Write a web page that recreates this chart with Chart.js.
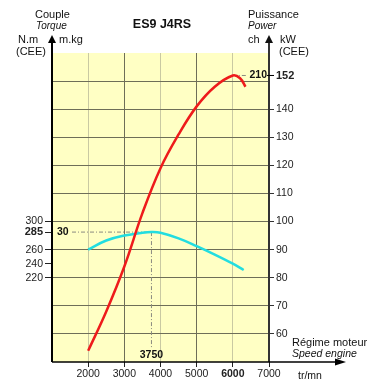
<!DOCTYPE html>
<html>
<head>
<meta charset="utf-8">
<script src="https://cdn.jsdelivr.net/npm/chart.js@4"></script>
<style>
  html, body { margin: 0; padding: 0; background: #fff; }
</style>
</head>
<body>
<canvas id="engineChart" width="380" height="380"></canvas>
<script>
// engine speed (tr/mn) and the two curves
const rpmPower = [2000, 2500, 3000, 3500, 4000, 4500, 5000, 5500, 6000, 6200, 6350];
const powerKw  = [54, 68, 84, 103, 119, 131, 141, 148, 152, 151, 148];
const rpmTorque = [2000, 2500, 3000, 3500, 3750, 4000, 4500, 5000, 5500, 6000, 6300];
const torqueNm  = [260, 273, 280, 284, 285, 284, 276, 265, 253, 240, 231];

const rpmTicks = [2000, 3000, 4000, 5000, 6000, 7000];
const kwTicks  = [60, 70, 80, 90, 100, 110, 120, 130, 140, 150, 152];
const nmTicks  = [220, 240, 260, 285, 300];

const FONT = "'Liberation Sans', Arial, sans-serif";
const YELLOW = "#ffffc4";
const GRID_DARK = "#6e6e58";
const GRID_LIGHT = "#c9c9a2";

/* ---------- decorations (background, axes, labels) ---------- */
const sheetPlugin = {
  id: "sheet",
  beforeDraw(chart) {
    const { ctx, chartArea: a } = chart;
    ctx.save();
    ctx.fillStyle = YELLOW;
    ctx.fillRect(a.left, a.top, a.right - a.left, a.bottom - a.top);
    ctx.restore();
  },
  beforeDatasetsDraw(chart) {
    const { ctx, chartArea: a, scales } = chart;
    const x = scales.x, yR = scales.yR, yL = scales.yL;
    ctx.save();
    ctx.strokeStyle = "#8a8a80";
    ctx.lineWidth = 1;
    ctx.setLineDash([4, 2, 1, 2]);
    // max torque guides
    const ty = yL.getPixelForValue(285);
    const tx = x.getPixelForValue(3750);
    ctx.beginPath();
    ctx.moveTo(a.left + 20, ty);
    ctx.lineTo(tx, ty);
    ctx.moveTo(tx, ty);
    ctx.lineTo(tx, a.bottom - 14);
    // max power guide
    const py = yR.getPixelForValue(152);
    ctx.moveTo(x.getPixelForValue(6000), py);
    ctx.lineTo(a.right - 23, py);
    ctx.stroke();
    ctx.restore();
  },
  afterDraw(chart) {
    const { ctx, chartArea: a, scales } = chart;
    const x = scales.x, yR = scales.yR, yL = scales.yL;
    ctx.save();

    // axes with arrows
    function arrowUp(px, top) {
      ctx.beginPath();
      ctx.moveTo(px, top);
      ctx.lineTo(px - 4, top + 8);
      ctx.lineTo(px + 4, top + 8);
      ctx.closePath();
      ctx.fill();
    }
    ctx.fillStyle = "#000";
    ctx.strokeStyle = "#000";
    ctx.lineWidth = 2;
    ctx.beginPath();
    ctx.moveTo(a.left, a.bottom);
    ctx.lineTo(a.left, 40);
    ctx.stroke();
    arrowUp(a.left, 35);
    ctx.strokeStyle = "#333";
    ctx.beginPath();
    ctx.moveTo(a.right, a.bottom);
    ctx.lineTo(a.right, 40);
    ctx.stroke();
    ctx.fillStyle = "#111";
    arrowUp(a.right, 35);
    ctx.strokeStyle = "#000";
    ctx.fillStyle = "#000";
    ctx.lineWidth = 1.5;
    ctx.beginPath();
    ctx.moveTo(a.left, a.bottom);
    ctx.lineTo(338, a.bottom);
    ctx.stroke();
    ctx.beginPath();
    ctx.moveTo(346, a.bottom);
    ctx.lineTo(335, a.bottom - 3.5);
    ctx.lineTo(335, a.bottom + 3.5);
    ctx.closePath();
    ctx.fill();

    // small cross tick at 152 kW
    ctx.lineWidth = 1;
    ctx.beginPath();
    ctx.moveTo(a.right - 2, yR.getPixelForValue(152));
    ctx.lineTo(a.right + 5, yR.getPixelForValue(152));
    ctx.stroke();

    // header texts
    ctx.fillStyle = "#111";
    ctx.textBaseline = "middle";
    ctx.textAlign = "left";
    ctx.font = "11px " + FONT;
    ctx.fillText("Couple", 35, 15);
    ctx.fillText("N.m", 18, 40);
    ctx.fillText("m.kg", 59, 40);
    ctx.fillText("(CEE)", 16, 52);
    ctx.fillText("Puissance", 248, 15);
    ctx.fillText("ch", 248, 40);
    ctx.fillText("kW", 280, 40);
    ctx.fillText("(CEE)", 279, 52);
    ctx.font = "italic 10px " + FONT;
    ctx.fillText("Torque", 36, 26);
    ctx.fillText("Power", 248, 26);

    ctx.font = "bold 12.5px " + FONT;
    ctx.textAlign = "center";
    ctx.fillText("ES9 J4RS", 162, 25);

    // speed axis name
    ctx.textAlign = "left";
    ctx.font = "11px " + FONT;
    ctx.fillText("Régime moteur", 292, a.bottom - 19);
    ctx.font = "italic 10.5px " + FONT;
    ctx.fillText("Speed engine", 292, a.bottom - 8);
    ctx.font = "10.5px " + FONT;
    ctx.fillText("tr/mn", 298, 376);

    // peak values
    ctx.font = "bold 10.5px " + FONT;
    ctx.textAlign = "left";
    ctx.fillText("30", a.left + 5, yL.getPixelForValue(285));
    ctx.textAlign = "center";
    ctx.fillText("3750", x.getPixelForValue(3750), a.bottom - 7);
    ctx.textAlign = "right";
    ctx.fillText("210", a.right - 2, yR.getPixelForValue(152));

    ctx.restore();
  }
};

/* ---------- chart ---------- */
const chart = new Chart(document.getElementById("engineChart"), {
  type: "line",
  data: {
    datasets: [
      {
        label: "Puissance",
        data: rpmPower.map((r, i) => ({ x: r, y: powerKw[i] })),
        yAxisID: "yR",
        borderColor: "#ee1b1b",
        borderWidth: 2.5,
        pointRadius: 0,
        tension: 0.4
      },
      {
        label: "Couple",
        data: rpmTorque.map((r, i) => ({ x: r, y: torqueNm[i] })),
        yAxisID: "yL",
        borderColor: "#22dde0",
        borderWidth: 2.5,
        pointRadius: 0,
        tension: 0.4
      }
    ]
  },
  options: {
    responsive: false,
    devicePixelRatio: 1,
    animation: false,
    layout: { padding: { top: 53, left: 0, right: 0, bottom: 0 } },
    plugins: { legend: { display: false }, tooltip: { enabled: false } },
    scales: {
      x: {
        type: "linear",
        min: 1000,
        max: 7000,
        afterBuildTicks: s => { s.ticks = rpmTicks.map(v => ({ value: v })); },
        afterFit: s => { s.height = 18; },
        border: { display: false },
        grid: {
          color: c => c.tick.value === 7000 ? "transparent"
            : (c.tick.value / 1000) % 2 === 1 ? GRID_DARK : GRID_LIGHT,
          tickColor: "#222",
          tickLength: 5,
          lineWidth: 1
        },
        ticks: {
          autoSkip: false,
          maxRotation: 0,
          padding: 1,
          color: "#222",
          callback: v => String(v),
          font: c => c.tick && c.tick.value === 6000
            ? { family: FONT, size: 10.5, weight: "bold" }
            : { family: FONT, size: 10.5 }
        }
      },
      yR: {
        position: "right",
        min: 50,
        max: 160,
        afterBuildTicks: s => { s.ticks = kwTicks.map(v => ({ value: v })); },
        afterFit: s => { s.width = 111; },
        border: { display: false },
        grid: {
          color: c => c.tick.value === 152 ? "transparent" : GRID_DARK,
          tickColor: c => c.tick.value === 150 ? "transparent" : "#333",
          tickLength: 5,
          lineWidth: 1
        },
        ticks: {
          padding: 2,
          color: "#222",
          callback: v => v === 150 ? "" : String(v),
          font: c => c.tick && c.tick.value === 152
            ? { family: FONT, size: 11, weight: "bold" }
            : { family: FONT, size: 10.5 }
        }
      },
      yL: {
        position: "left",
        min: 100,
        max: 540,
        afterBuildTicks: s => { s.ticks = nmTicks.map(v => ({ value: v })); },
        afterFit: s => { s.width = 52; },
        border: { display: false },
        grid: {
          drawOnChartArea: false,
          tickColor: "#222",
          tickLength: 7,
          lineWidth: 1
        },
        ticks: {
          padding: 2,
          color: "#222",
          callback: v => String(v),
          font: c => c.tick && c.tick.value === 285
            ? { family: FONT, size: 11, weight: "bold" }
            : { family: FONT, size: 10.5 }
        }
      }
    }
  },
  plugins: [sheetPlugin]
});
</script>
</body>
</html>
